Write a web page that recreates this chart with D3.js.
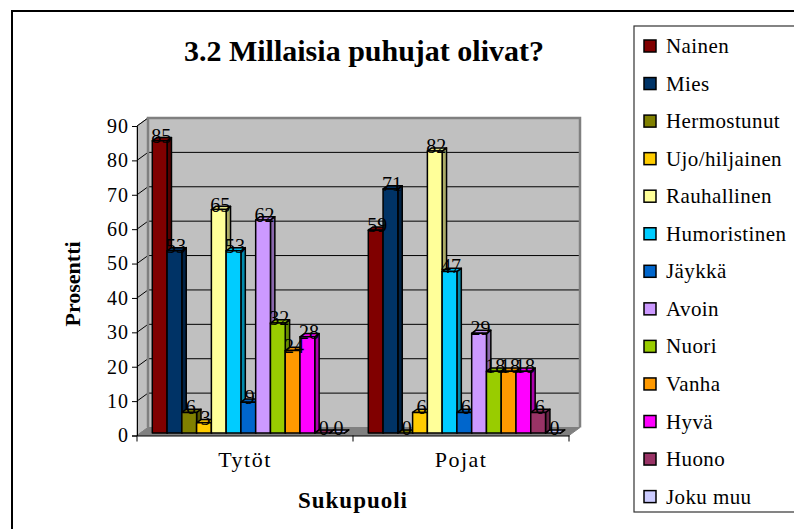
<!DOCTYPE html>
<html>
<head>
<meta charset="utf-8">
<script src="https://cdn.jsdelivr.net/npm/d3@7"></script>
<style>
  body { margin: 0; background: #fff; }
  svg text { font-family: "Liberation Serif", "Times New Roman", serif; }
</style>
</head>
<body>
<div id="chart"></div>
<script>
// data
const categories = ["Tytöt", "Pojat"];
const seriesNames = ["Nainen", "Mies", "Hermostunut", "Ujo/hiljainen", "Rauhallinen", "Humoristinen",
  "Jäykkä", "Avoin", "Nuori", "Vanha", "Hyvä", "Huono", "Joku muu"];
const tytot = [85, 53, 6, 3, 65, 53, 9, 62, 32, 24, 28, 0, 0];
const pojat = [59, 71, 0, 6, 82, 47, 6, 29, 18, 18, 18, 6, 0];
const seriesColors = ["#800000", "#003366", "#808000", "#FFCC00", "#FFFF99", "#00CCFF",
  "#0066CC", "#CC99FF", "#99CC00", "#FF9900", "#FF00FF", "#993366", "#CCCCFF"];
const yTicks = [0, 10, 20, 30, 40, 50, 60, 70, 80, 90];

const values = { "Tytöt": tytot, "Pojat": pojat };

const width = 794, height = 529;
const DX = 11, DY = -8;      // 3d depth offset
const Z0 = 0.3, Z1 = 0.7;    // bar depth range
const SERIF = "'Liberation Serif', 'Times New Roman', serif";

const svg = d3.select("#chart").append("svg")
  .attr("width", width)
  .attr("height", height);

// outer frame
svg.append("rect")
  .attr("x", 12).attr("y", 11)
  .attr("width", 800).attr("height", 540)
  .attr("fill", "#fff").attr("stroke", "#000").attr("stroke-width", 2);

const x = d3.scaleBand().domain(categories).range([137, 569]);
const xs = d3.scaleBand().domain(seriesNames).range([12, x.bandwidth() - 12]);
const y = d3.scaleLinear().domain([0, 90]).range([435.5, 126]);

const y0 = y(0), yTop = y(90);
const xl = x.range()[0], xr = x.range()[1];

// walls and floor
svg.append("polygon")
  .attr("points", [[xl, yTop], [xl + DX, yTop + DY], [xl + DX, y0 + DY], [xl, y0]].join(" "))
  .attr("fill", "#C0C0C0").attr("stroke", "#808080").attr("stroke-width", 1);
svg.append("rect")
  .attr("x", xl + DX).attr("y", yTop + DY)
  .attr("width", xr - xl).attr("height", y0 - yTop)
  .attr("fill", "#C0C0C0");
svg.append("polygon")
  .attr("points", [[xl, y0], [xr, y0], [xr + DX, y0 + DY], [xl + DX, y0 + DY]].join(" "))
  .attr("fill", "#808080").attr("stroke", "#808080").attr("stroke-width", 1);

// gridlines
const grid = svg.append("g");
yTicks.filter(t => t > 0 && t < 90).forEach(t => {
  grid.append("line")
    .attr("x1", xl + DX).attr("x2", xr + DX)
    .attr("y1", y(t) + DY).attr("y2", y(t) + DY)
    .attr("stroke", "#000").attr("stroke-width", 1);
});
yTicks.filter(t => t > 0).forEach(t => {
  grid.append("line")
    .attr("x1", xl).attr("x2", xl + DX)
    .attr("y1", y(t)).attr("y2", y(t) + DY)
    .attr("stroke", "#000").attr("stroke-width", 1);
});
// wall border
svg.append("path")
  .attr("d", `M${xl + DX},${y0 + DY}V${yTop + DY}H${xr + DX}V${y0 + DY}`)
  .attr("fill", "none").attr("stroke", "#808080").attr("stroke-width", 2.5);

// bars
const bars = svg.append("g");
const labels = [];
categories.forEach(cat => {
  seriesNames.forEach((name, j) => {
    const v = values[cat][j];
    const x0 = x(cat) + xs(name);
    const w = xs.bandwidth();
    const yv = y(v);
    const col = d3.color(seriesColors[j]);
    const fx = x0 + DX * Z0, fy = DY * Z0;
    const bx = x0 + DX * Z1, by = DY * Z1;
    const g = bars.append("g").attr("stroke", "#000").attr("stroke-width", 1.5).attr("stroke-linejoin", "round");
    // side
    g.append("polygon")
      .attr("points", [[fx + w, yv + fy], [bx + w, yv + by], [bx + w, y0 + by], [fx + w, y0 + fy]].join(" "))
      .attr("fill", col.darker(1.1));
    // top
    g.append("polygon")
      .attr("points", [[fx, yv + fy], [fx + w, yv + fy], [bx + w, yv + by], [bx, yv + by]].join(" "))
      .attr("fill", col.darker(0.3));
    // front
    g.append("rect")
      .attr("x", fx).attr("y", yv + fy)
      .attr("width", w).attr("height", y0 - yv)
      .attr("fill", col);
    labels.push({ v, cx: fx + w / 2 + 1.5, cy: yv + fy + 2 });
  });
});

svg.append("g").selectAll("text")
  .data(labels)
  .join("text")
  .attr("x", d => d.cx).attr("y", d => d.cy)
  .attr("text-anchor", "middle")
  .style("font-family", SERIF)
  .attr("font-size", 20)
  .attr("fill", "#000")
  .text(d => d.v);

// axes
const yAxis = svg.append("g")
  .attr("transform", `translate(${xl},0)`)
  .call(d3.axisLeft(y).tickValues(yTicks).tickSize(5).tickPadding(3));
yAxis.attr("font-family", null);
yAxis.select(".domain").attr("stroke", "#000");
yAxis.selectAll("line").attr("stroke", "#000");
yAxis.selectAll("text")
  .style("font-family", SERIF)
  .attr("font-size", 20).attr("letter-spacing", 1).attr("fill", "#000");

const xAxis = svg.append("g")
  .attr("transform", `translate(0,${y0})`)
  .call(d3.axisBottom(x).tickSize(0).tickPadding(16));
xAxis.attr("font-family", null);
xAxis.select(".domain").attr("stroke", "#000");
xAxis.selectAll("text")
  .style("font-family", SERIF)
  .attr("font-size", 22).attr("letter-spacing", 1.5).attr("fill", "#000");
xAxis.selectAll(".catTick")
  .data([xl, xl + x.step(), xr])
  .join("line")
  .attr("x1", d => d).attr("x2", d => d)
  .attr("y1", 0).attr("y2", 6)
  .attr("stroke", "#000");

// titles
svg.append("text")
  .attr("x", 364).attr("y", 61)
  .attr("text-anchor", "middle")
  .style("font-family", SERIF)
  .attr("font-size", 30).attr("font-weight", "bold")
  .text("3.2 Millaisia puhujat olivat?");

svg.append("text")
  .attr("transform", "translate(80,284) rotate(-90)")
  .attr("text-anchor", "middle")
  .style("font-family", SERIF)
  .attr("font-size", 22).attr("font-weight", "bold")
  .text("Prosentti");

svg.append("text")
  .attr("x", 353).attr("y", 508)
  .attr("text-anchor", "middle")
  .style("font-family", SERIF)
  .attr("font-size", 23).attr("font-weight", "bold").attr("letter-spacing", 1)
  .text("Sukupuoli");

// legend
const legend = svg.append("g");
legend.append("rect")
  .attr("x", 634).attr("y", 26)
  .attr("width", 180).attr("height", 486)
  .attr("fill", "#fff").attr("stroke", "#333").attr("stroke-width", 1.2);

const item = legend.selectAll(".item")
  .data(seriesNames)
  .join("g")
  .attr("transform", (d, i) => `translate(0,${46 + i * 37.55})`);
item.append("rect")
  .attr("x", 644).attr("y", -6)
  .attr("width", 12).attr("height", 12)
  .attr("fill", (d, i) => seriesColors[i])
  .attr("stroke", "#000").attr("stroke-width", 1.5);
item.append("text")
  .attr("x", 666).attr("y", 7)
  .style("font-family", SERIF)
  .attr("font-size", 21).attr("letter-spacing", 0.4)
  .text(d => d);
</script>
</body>
</html>
